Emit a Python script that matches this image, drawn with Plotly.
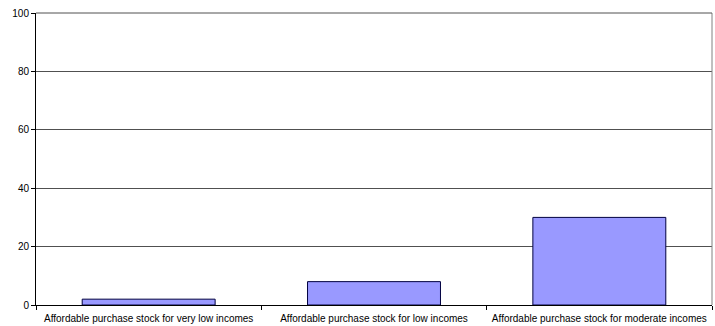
import plotly.graph_objects as go

categories = [
    "Affordable purchase stock for very low incomes",
    "Affordable purchase stock for low incomes",
    "Affordable purchase stock for moderate incomes",
]
values = [2, 8, 30]
y_ticks = [0, 20, 40, 60, 80, 100]

fig = go.Figure(
    go.Bar(
        x=categories,
        y=values,
        marker=dict(color="#9999FF", line=dict(color="#000040", width=1)),
        width=0.59,
    )
)

fig.update_layout(
    width=715,
    height=326,
    margin=dict(l=36, r=3, t=13, b=21),
    paper_bgcolor="white",
    plot_bgcolor="white",
    showlegend=False,
    font=dict(family="Liberation Sans, Arial, sans-serif", size=10, color="black"),
    shapes=[
        # plot-area frame on the right and the top gridline at 100
        dict(type="line", xref="paper", yref="paper", x0=1, x1=1, y0=0, y1=1,
             line=dict(color="#808080", width=1)),
        dict(type="line", xref="paper", yref="paper", x0=0, x1=1, y0=1, y1=1,
             line=dict(color="#505050", width=1)),
    ],
)

fig.update_xaxes(
    type="category",
    showline=True,
    linecolor="black",
    linewidth=1,
    ticks="outside",
    tickson="boundaries",
    ticklen=4,
    tickcolor="black",
    showgrid=False,
    automargin=False,
    tickfont=dict(size=10),
    ticklabelstandoff=4,
)

fig.update_yaxes(
    range=[0, 100],
    tickvals=y_ticks,
    showline=True,
    linecolor="black",
    linewidth=1,
    ticks="outside",
    ticklen=4,
    tickcolor="black",
    showgrid=True,
    gridcolor="#505050",
    gridwidth=1,
    zeroline=False,
    tickfont=dict(size=10),
)

fig.write_html("out.html")
